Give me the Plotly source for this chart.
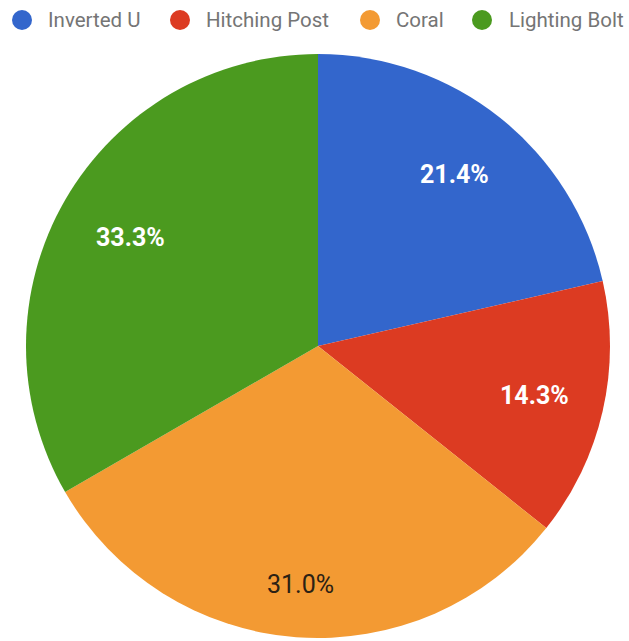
import math
import plotly.graph_objects as go

# Category data
categories = ["Inverted U", "Hitching Post", "Coral", "Lighting Bolt"]
counts = [9, 6, 13, 14]
colors = ["#3366cc", "#dc3b22", "#f39a33", "#4b9a1f"]

W, H = 629, 641
CX, CY, R = 318, 346, 292  # pie centre and radius in pixels

fig = go.Figure(
    go.Pie(
        labels=categories,
        values=counts,
        marker=dict(colors=colors, line=dict(width=0)),
        sort=False,
        direction="clockwise",
        rotation=0,
        textinfo="none",
        hoverinfo="label+percent",
        showlegend=False,
        domain=dict(x=[(CX - R) / W, (CX + R) / W], y=[1 - (CY + R) / H, 1 - (CY - R) / H]),
    )
)

# Percentage labels placed inside each slice
label_radius = [0.75, 0.76, 0.82, 0.74]
label_color = ["#ffffff", "#ffffff", "#2b2114", "#ffffff"]
total = sum(counts)
start = 0.0
for i, v in enumerate(counts):
    frac = v / total
    mid = (start + frac / 2) * 2 * math.pi
    start += frac
    px = CX + label_radius[i] * R * math.sin(mid)
    py = CY - label_radius[i] * R * math.cos(mid)
    fig.add_annotation(
        x=px / W, y=1 - py / H, xref="paper", yref="paper",
        text=f"{frac * 100:.1f}%", showarrow=False,
        font=dict(family="Roboto", size=25, color=label_color[i],
                  weight="bold" if label_color[i] == "#ffffff" else "normal"),
        xanchor="center", yanchor="middle",
    )

# Legend row across the top
legend_marker_x = [22, 180, 370, 482]
legend_text_x = [46, 204, 394, 507]
LEG_Y = 20
for name, col, mx, tx in zip(categories, colors, legend_marker_x, legend_text_x):
    fig.add_shape(
        type="circle", xref="paper", yref="paper",
        x0=(mx - 10) / W, x1=(mx + 10) / W,
        y0=1 - (LEG_Y + 10) / H, y1=1 - (LEG_Y - 10) / H,
        fillcolor=col, line=dict(width=0),
    )
    fig.add_annotation(
        x=tx / W, y=1 - LEG_Y / H, xref="paper", yref="paper",
        text=name, showarrow=False, xanchor="left", yanchor="middle",
        font=dict(family="Roboto", size=20.5, color="#757575"),
    )

fig.update_layout(
    width=W, height=H,
    margin=dict(l=0, r=0, t=0, b=0),
    paper_bgcolor="#ffffff",
    plot_bgcolor="#ffffff",
)

fig.write_html("out.html")
